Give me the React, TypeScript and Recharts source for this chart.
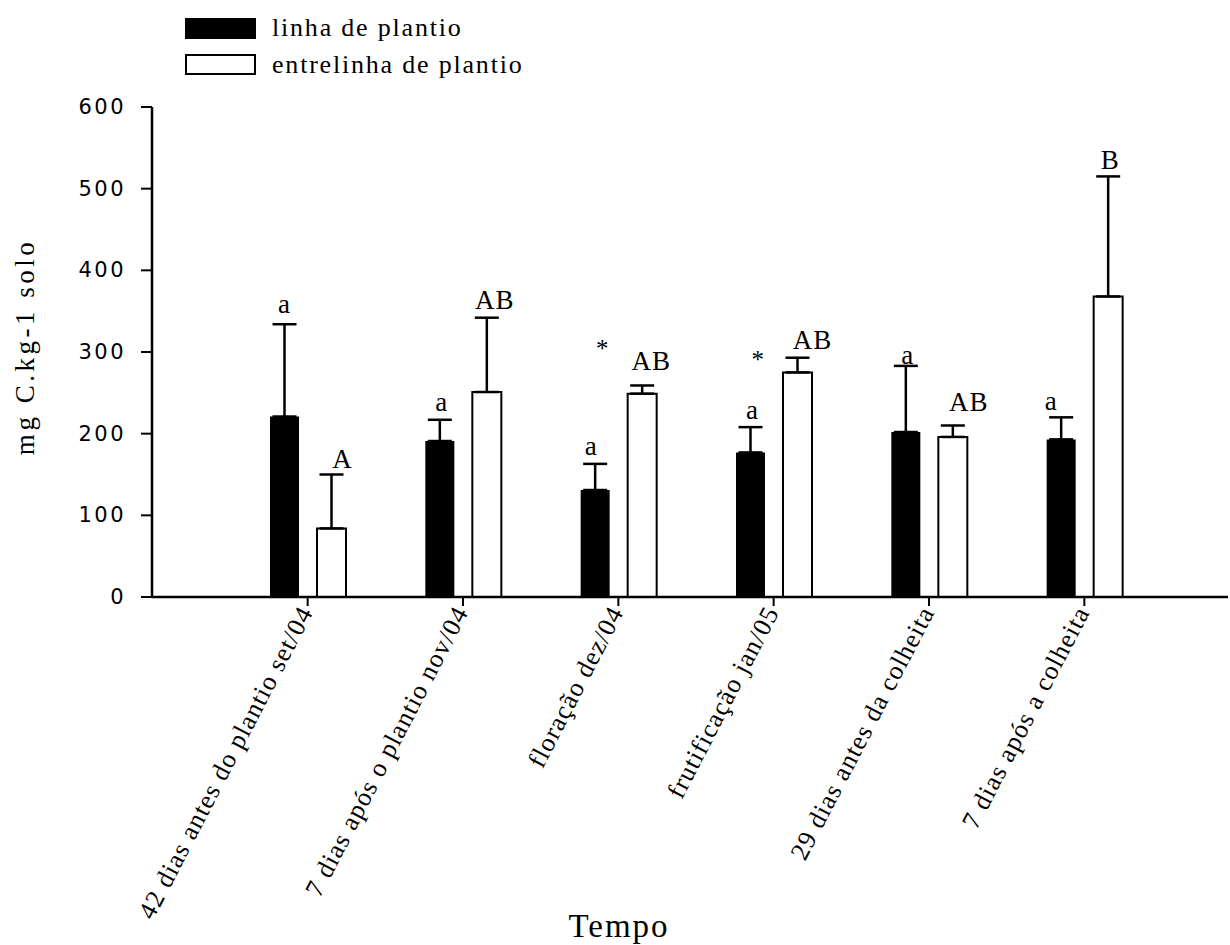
import { BarChart, Bar, XAxis, YAxis, ErrorBar, LabelList, Legend, ReferenceDot, Label } from "recharts";

const categories = [
  "42 dias antes do plantio set/04",
  "7 dias após o plantio nov/04",
  "floração dez/04",
  "frutificação jan/05",
  "29 dias antes da colheita",
  "7 dias após a colheita",
];
const seriesNames = ["linha de plantio", "entrelinha de plantio"];
const linhaValues = [221, 191, 131, 177, 202, 193];
const linhaErrors = [113, 26, 32, 31, 81, 27];
const entrelinhaValues = [84, 251, 249, 275, 196, 368];
const entrelinhaErrors = [66, 91, 10, 18, 14, 147];
const linhaLetters = ["a", "a", "a", "a", "a", "a"];
const entrelinhaLetters = ["A", "AB", "AB", "AB", "AB", "B"];
const asteriskCategories = [categories[2], categories[3]];
const asteriskHeights = [312, 299];
const yTicks = [0, 100, 200, 300, 400, 500, 600];

// small nudges for the significance letters (px)
const linhaLetterDx = [0, 2, -4, 2, 2, -10];
const linhaLetterGap = [11, 9, 9, 8, 2, 7];
const entreLetterDx = [11, 8, 9, 15, 16, 2];
const entreLetterGap = [7, 9, 15, 9, 15, 7];

const SERIF = '"Liberation Serif", "Times New Roman", serif';
const SANS = '"DejaVu Sans", Verdana, sans-serif';

const data = categories.map((tempo, i) => ({
  tempo,
  linha: linhaValues[i],
  linhaErr: [0, linhaErrors[i]],
  linhaLetter: linhaLetters[i],
  entrelinha: entrelinhaValues[i],
  entrelinhaErr: [0, entrelinhaErrors[i]],
  entrelinhaLetter: entrelinhaLetters[i],
}));

function letterLabel(values: number[], errors: number[], dxs: number[], gaps: number[]) {
  return (props: any) => {
    const { x, y, width, height, value, index } = props;
    const perUnit = height / values[index];
    const capY = y - errors[index] * perUnit;
    return (
      <text
        x={x + width / 2 + dxs[index]}
        y={capY - gaps[index]}
        textAnchor="middle"
        fontFamily={SERIF}
        fontSize={27}
        letterSpacing={1}
        fill="#000"
      >
        {value}
      </text>
    );
  };
}

function XTick({ x, y, payload }: any) {
  return (
    <g transform={`translate(${x + 6},${y + 4})`}>
      <text
        x={0}
        y={0}
        transform="rotate(-62.5)"
        textAnchor="end"
        fontFamily={SERIF}
        fontSize={26}
        letterSpacing={1.1}
        fill="#000"
      >
        {payload.value}
      </text>
    </g>
  );
}

function YTick({ x, y, payload }: any) {
  return (
    <text x={x} y={y} dy={7} textAnchor="end" fontFamily={SANS} fontSize={21} letterSpacing={2.5} fill="#000">
      {payload.value}
    </text>
  );
}

function renderLegend(props: any) {
  const items = props.payload ?? [];
  const ordered = seriesNames.map((n) => items.find((it: any) => it.value === n)).filter(Boolean);
  return (
    <svg width={600} height={85}>
      {ordered.map((item: any, i: number) => (
        <g key={item.value}>
          <rect x={186} y={19 + i * 36} width={69} height={19} fill={item.color} stroke="#000" strokeWidth={2} />
          <text x={272} y={36 + i * 36.5} fontFamily={SERIF} fontSize={26} letterSpacing={1.8} fill="#000">
            {item.value}
          </text>
        </g>
      ))}
    </svg>
  );
}

export default function App() {
  return (
    <div style={{ position: "absolute", left: 0, top: 0, background: "#fff" }}>
      <BarChart
        width={1230}
        height={945}
        data={data}
        margin={{ top: 107, right: 2, left: 0, bottom: 0 }}
        barCategoryGap={40}
        barGap={18}
      >
        <Legend
          layout="vertical"
          align="center"
          verticalAlign="middle"
          wrapperStyle={{ left: 0, top: 0, width: 600, height: 85 }}
          content={renderLegend}
        />
        <XAxis
          dataKey="tempo"
          type="category"
          height={348}
          interval={0}
          padding={{ left: 78, right: 66 }}
          tickSize={9}
          tickMargin={2}
          axisLine={{ stroke: "#000", strokeWidth: 2.5 }}
          tickLine={{ stroke: "#000", strokeWidth: 2 }}
          tick={<XTick />}
        >
          <Label
            content={() => (
              <text x={619} y={937} textAnchor="middle" fontFamily={SERIF} fontSize={33} letterSpacing={2} fill="#000">
                Tempo
              </text>
            )}
          />
        </XAxis>
        <YAxis
          width={152}
          domain={[0, 600]}
          ticks={yTicks}
          interval={0}
          tickSize={11}
          tickMargin={15}
          axisLine={{ stroke: "#000", strokeWidth: 2.5 }}
          tickLine={{ stroke: "#000", strokeWidth: 2 }}
          tick={<YTick />}
        >
          <Label
            content={(p: any) => {
              const vb = p.viewBox ?? { y: 107, height: 490 };
              const cy = vb.y + vb.height / 2 - 5;
              return (
                <text
                  x={34}
                  y={cy}
                  transform={`rotate(-90, 34, ${cy})`}
                  textAnchor="middle"
                  fontFamily={SERIF}
                  fontSize={27}
                  letterSpacing={3.5}
                  fill="#000"
                >
                  mg C.kg-1 solo
                </text>
              );
            }}
          />
        </YAxis>
        <Bar dataKey="linha" name={seriesNames[0]} fill="#000" isAnimationActive={false}>
          <ErrorBar dataKey="linhaErr" width={12} stroke="#000" strokeWidth={2.5} direction="y" />
          <LabelList
            dataKey="linhaLetter"
            content={letterLabel(linhaValues, linhaErrors, linhaLetterDx, linhaLetterGap)}
          />
        </Bar>
        <Bar
          dataKey="entrelinha"
          name={seriesNames[1]}
          fill="#fff"
          stroke="#000"
          strokeWidth={2}
          isAnimationActive={false}
        >
          <ErrorBar dataKey="entrelinhaErr" width={12} stroke="#000" strokeWidth={2.5} direction="y" />
          <LabelList
            dataKey="entrelinhaLetter"
            content={letterLabel(entrelinhaValues, entrelinhaErrors, entreLetterDx, entreLetterGap)}
          />
        </Bar>
        {asteriskCategories.map((c, i) => (
          <ReferenceDot
            key={c}
            x={c}
            y={asteriskHeights[i]}
            r={0}
            stroke="none"
            label={{ value: "*", position: "center", dx: -16, dy: 6, fontFamily: SERIF, fontSize: 25, fill: "#000" }}
          />
        ))}
      </BarChart>
    </div>
  );
}
